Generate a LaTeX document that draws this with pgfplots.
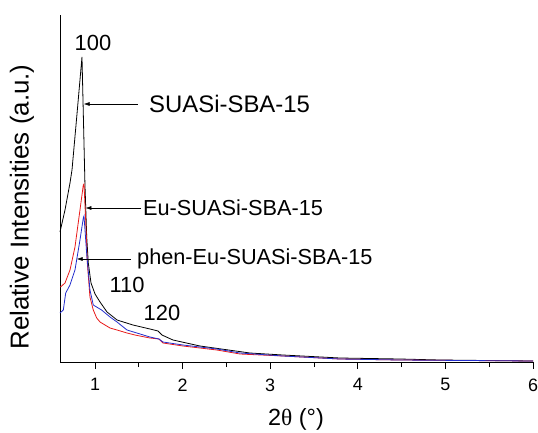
\documentclass[border=0pt]{standalone}
\usepackage{pgfplots}
\pgfplotsset{compat=1.18}
\usepackage{fontspec}
\setmainfont{Liberation Sans}
\newfontfamily\greekfont{Liberation Serif}
\usetikzlibrary{arrows.meta}
\definecolor{cblue}{RGB}{35,45,205}
\definecolor{cred}{RGB}{232,25,25}
\begin{document}
\begin{tikzpicture}[x=1bp,y=1bp]
\useasboundingbox (-60,-70) rectangle (478,362);
\begin{axis}[at={(0,0)}, anchor=south west, scale only axis,
  width=473bp, height=347bp,
  xmin=0.6, xmax=6, ymin=0, ymax=347,
  axis x line=bottom, axis y line=left,
  axis line style={-, line width=0.9pt},
  ytick=\empty,
  xtick={1,2,3,4,5,6},
  minor xtick={1.5,2.5,3.5,4.5,5.5},
  tick align=outside,
  major tick length=7bp, minor tick length=5bp,
  every tick/.style={black, line width=0.9pt},
  /pgf/number format/assume math mode=true,
  ticklabel style={font=\fontsize{18}{21}\selectfont},
  xticklabel style={yshift=-6bp},
  clip=false]
\addplot[black, line width=0.8pt] coordinates {
(0.600,130) (0.657,152) (0.714,179) (0.737,192) (0.794,248) (0.851,305)
(0.885,177) (0.905,125) (0.923,99) (0.954,79) (1.000,68) (1.057,60)
(1.137,50) (1.251,42) (1.433,37) (1.627,33) (1.719,31) (1.742,29)
(1.764,27) (1.890,22) (2.198,16) (2.769,9) (3.146,7) (3.796,4)
(4.481,3) (4.938,2) (6.000,1)};
\addplot[cred, line width=0.8pt] coordinates {
(0.605,75) (0.657,79) (0.714,92) (0.771,115) (0.828,152) (0.866,177)
(0.874,178) (0.893,142) (0.912,99) (0.942,65) (0.980,52) (1.019,44)
(1.057,40) (1.171,34) (1.251,32) (1.365,29) (1.456,27) (1.627,24)
(1.730,23) (1.776,19) (2.004,16) (2.392,12) (2.655,8) (3.146,6)
(3.796,3) (4.481,2) (6.000,1)};
\addplot[cblue, line width=0.8pt] coordinates {
(0.600,49) (0.638,52) (0.665,69) (0.714,77) (0.771,92) (0.828,122)
(0.866,144) (0.874,146) (0.904,109) (0.942,72) (0.980,57) (1.075,52)
(1.171,45) (1.251,40) (1.365,32) (1.627,25) (1.730,23) (1.776,20)
(2.004,17) (2.392,13) (2.655,9) (3.146,6) (3.796,3) (4.481,2) (6.000,1)};
% annotations
\node[font=\fontsize{22}{26}\selectfont] at (axis cs:0.977,319) {100};
\node[font=\fontsize{22}{26}\selectfont] at (axis cs:1.365,77) {110};
\node[font=\fontsize{22}{26}\selectfont] at (axis cs:1.764,49) {120};
\draw[-{Latex[length=6pt,width=4pt]}, line width=0.6pt] (axis cs:1.490,258) -- (axis cs:0.870,258);
\node[anchor=west, inner sep=0pt, font=\fontsize{24}{28}\selectfont] at (axis cs:1.616,258) {SUASi-SBA-15};
\draw[-{Latex[length=6pt,width=4pt]}, line width=0.6pt] (axis cs:1.525,154) -- (axis cs:0.890,154);
\node[anchor=west, inner sep=0pt, font=\fontsize{21.8}{25}\selectfont] at (axis cs:1.547,154) {Eu-SUASi-SBA-15};
\draw[-{Latex[length=6pt,width=4pt]}, line width=0.6pt] (axis cs:1.410,103) -- (axis cs:0.790,103);
\node[anchor=west, inner sep=0pt, font=\fontsize{21.8}{25}\selectfont] at (axis cs:1.479,103) {phen-Eu-SUASi-SBA-15};
\end{axis}
\node[font=\fontsize{23.5}{27}\selectfont] at (236,-57) {2{\greekfont θ} (°)};
\node[rotate=90, font=\fontsize{26}{30}\selectfont] at (-38,155) {Relative Intensities (a.u.)};
\end{tikzpicture}
\end{document}
